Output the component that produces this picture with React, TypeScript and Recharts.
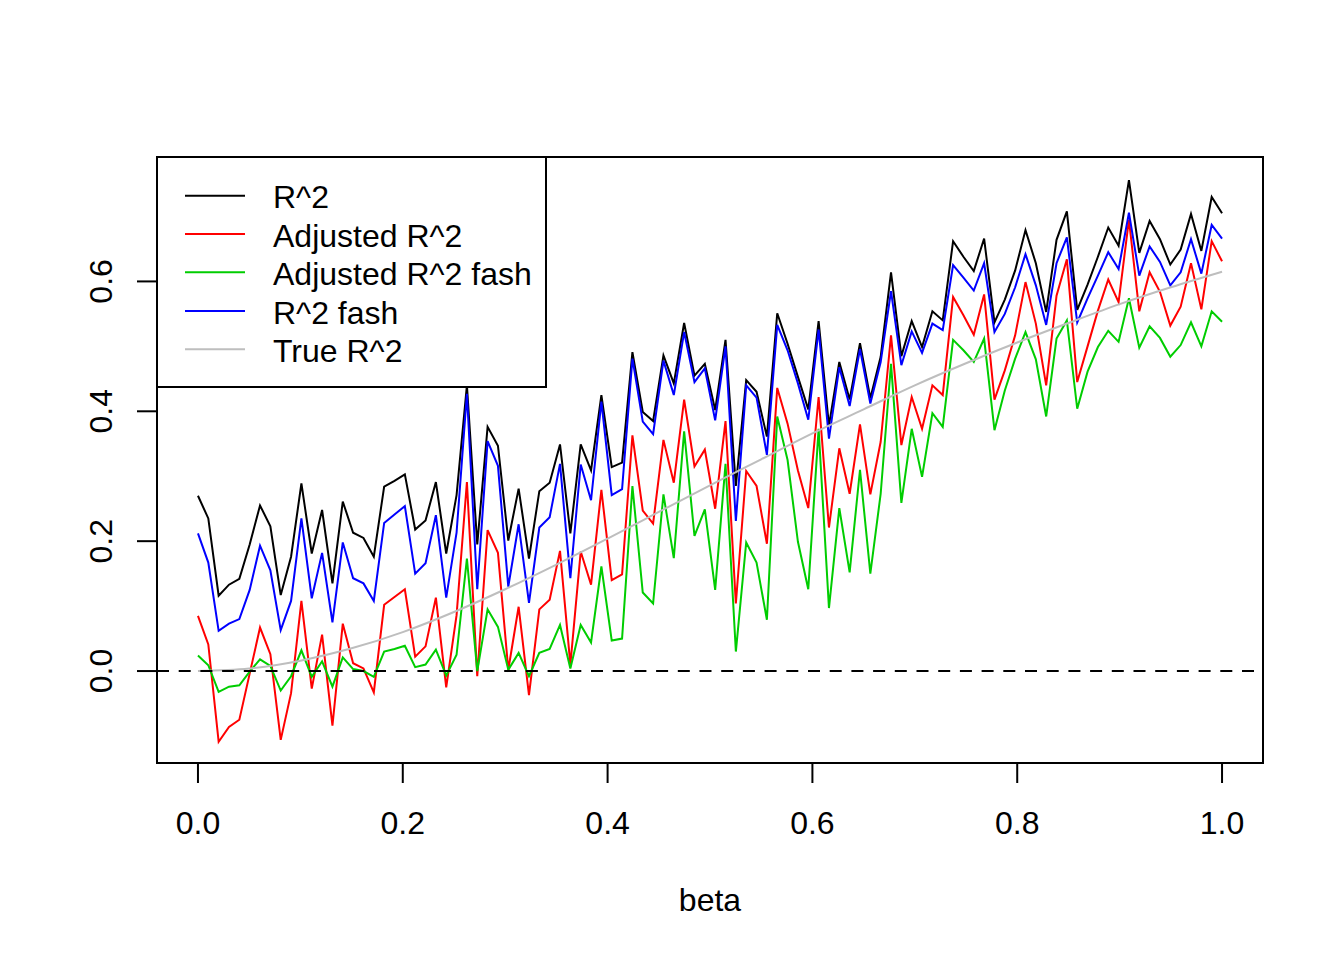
import React from "react";
import {
  LineChart,
  Line,
  XAxis,
  YAxis,
  ReferenceLine,
  ReferenceArea,
  Legend,
  Label,
} from "recharts";

// ---- data ----
const r2 = [
  0.270, 0.235, 0.116, 0.133, 0.142, 0.195, 0.255, 0.223, 0.117, 0.176,
  0.289, 0.181, 0.248, 0.135, 0.261, 0.213, 0.205, 0.176, 0.284, 0.293,
  0.303, 0.218, 0.232, 0.291, 0.181, 0.271, 0.440, 0.195, 0.376, 0.347,
  0.201, 0.281, 0.173, 0.277, 0.290, 0.349, 0.212, 0.349, 0.309, 0.425,
  0.314, 0.321, 0.491, 0.399, 0.385, 0.486, 0.443, 0.536, 0.455, 0.473,
  0.402, 0.510, 0.285, 0.448, 0.430, 0.361, 0.551, 0.504, 0.453, 0.403,
  0.539, 0.378, 0.476, 0.418, 0.505, 0.420, 0.484, 0.614, 0.485, 0.539,
  0.499, 0.554, 0.540, 0.662, 0.638, 0.616, 0.666, 0.537, 0.572, 0.617,
  0.679, 0.628, 0.553, 0.664, 0.708, 0.556, 0.595, 0.638, 0.683, 0.655,
  0.756, 0.644, 0.693, 0.665, 0.626, 0.649, 0.704, 0.647, 0.730, 0.705,
];

const adjR2 = [
  0.085, 0.041, -0.109, -0.086, -0.075, -0.004, 0.067, 0.026, -0.106, -0.034,
  0.108, -0.027, 0.056, -0.084, 0.073, 0.012, 0.004, -0.033, 0.102, 0.114,
  0.126, 0.022, 0.038, 0.113, -0.025, 0.086, 0.291, -0.008, 0.217, 0.182,
  0.002, 0.099, -0.037, 0.095, 0.110, 0.185, 0.010, 0.184, 0.133, 0.279,
  0.140, 0.149, 0.363, 0.247, 0.227, 0.356, 0.290, 0.418, 0.315, 0.341,
  0.250, 0.385, 0.104, 0.308, 0.285, 0.196, 0.436, 0.381, 0.309, 0.251,
  0.422, 0.221, 0.343, 0.273, 0.380, 0.272, 0.353, 0.517, 0.348, 0.422,
  0.373, 0.440, 0.425, 0.576, 0.548, 0.518, 0.580, 0.418, 0.463, 0.517,
  0.599, 0.535, 0.440, 0.578, 0.634, 0.445, 0.500, 0.555, 0.603, 0.568,
  0.695, 0.554, 0.614, 0.584, 0.532, 0.561, 0.628, 0.557, 0.662, 0.631,
];

const adjR2Fash = [
  0.024, 0.009, -0.032, -0.024, -0.022, -0.001, 0.018, 0.008, -0.030, -0.008,
  0.032, -0.009, 0.015, -0.024, 0.021, 0.003, 0.000, -0.009, 0.030, 0.034,
  0.039, 0.006, 0.010, 0.033, -0.007, 0.025, 0.173, 0.000, 0.095, 0.068,
  0.002, 0.028, -0.008, 0.028, 0.034, 0.071, 0.004, 0.071, 0.044, 0.161,
  0.047, 0.050, 0.285, 0.121, 0.104, 0.272, 0.174, 0.369, 0.208, 0.249,
  0.125, 0.319, 0.030, 0.198, 0.167, 0.079, 0.392, 0.325, 0.199, 0.126,
  0.373, 0.097, 0.251, 0.152, 0.310, 0.150, 0.273, 0.473, 0.259, 0.373,
  0.299, 0.397, 0.376, 0.510, 0.494, 0.476, 0.512, 0.371, 0.432, 0.481,
  0.522, 0.480, 0.392, 0.512, 0.540, 0.404, 0.461, 0.499, 0.524, 0.507,
  0.574, 0.498, 0.531, 0.513, 0.484, 0.502, 0.537, 0.500, 0.554, 0.538,
];

const r2Fash = [
  0.212, 0.167, 0.062, 0.073, 0.080, 0.125, 0.193, 0.155, 0.063, 0.108,
  0.235, 0.112, 0.182, 0.075, 0.198, 0.143, 0.135, 0.108, 0.228, 0.241,
  0.254, 0.150, 0.166, 0.240, 0.113, 0.213, 0.427, 0.126, 0.354, 0.316,
  0.130, 0.226, 0.105, 0.221, 0.237, 0.319, 0.143, 0.318, 0.263, 0.415,
  0.271, 0.280, 0.481, 0.384, 0.365, 0.478, 0.425, 0.522, 0.445, 0.466,
  0.386, 0.500, 0.231, 0.440, 0.421, 0.333, 0.533, 0.494, 0.443, 0.387,
  0.526, 0.358, 0.468, 0.408, 0.496, 0.412, 0.476, 0.585, 0.471, 0.523,
  0.490, 0.535, 0.525, 0.625, 0.606, 0.586, 0.628, 0.522, 0.550, 0.591,
  0.642, 0.594, 0.533, 0.628, 0.668, 0.537, 0.574, 0.609, 0.645, 0.619,
  0.706, 0.609, 0.654, 0.630, 0.594, 0.614, 0.665, 0.612, 0.687, 0.666,
];

// smooth "True R^2" curve, read at beta = 0, 0.05, ..., 1
const trueBeta = [
  0, 0.05, 0.1, 0.15, 0.2, 0.25, 0.3, 0.35, 0.4, 0.45, 0.5,
  0.55, 0.6, 0.65, 0.7, 0.75, 0.8, 0.85, 0.9, 0.95, 1.0,
];
const trueR2 = [
  0.0, 0.004, 0.016, 0.035, 0.060, 0.091, 0.126, 0.164, 0.204, 0.245, 0.286,
  0.326, 0.366, 0.403, 0.440, 0.474, 0.506, 0.536, 0.565, 0.591, 0.615,
];

const xTicks = [0, 0.2, 0.4, 0.6, 0.8, 1.0];
const yTicks = [0, 0.2, 0.4, 0.6];

const legendLabels = ["R^2", "Adjusted R^2", "Adjusted R^2 fash", "R^2 fash", "True R^2"];
const seriesColors = ["#000000", "#FF0000", "#00CD00", "#0000FF", "#BEBEBE"];

// beta grid: seq(0, 1, length = 100)
const beta = r2.map((_, i) => i / (r2.length - 1));

const rows = beta.map((x, i) => ({
  x,
  r2: r2[i],
  adj: adjR2[i],
  adjFash: adjR2Fash[i],
  fash: r2Fash[i],
}));
const trueRows = trueBeta.map((x, i) => ({ x, t: trueR2[i] }));

const X_DOMAIN: [number, number] = [-0.04, 1.04];
const Y_DOMAIN: [number, number] = [-0.1416, 0.7916];

const FONT = "'Liberation Sans', Arial, Helvetica, sans-serif";
const LW = 2;

const XTick = (props: any) => {
  const { x, y, payload } = props;
  return (
    <text x={x} y={y + 51} textAnchor="middle" fontSize={32} fontFamily={FONT} fill="#000">
      {Number(payload.value).toFixed(1)}
    </text>
  );
};

const YTick = (props: any) => {
  const { x, y, payload } = props;
  const tx = x - 25;
  return (
    <text
      x={tx}
      y={y}
      transform={`rotate(-90 ${tx} ${y})`}
      textAnchor="middle"
      fontSize={32}
      fontFamily={FONT}
      fill="#000"
    >
      {Number(payload.value).toFixed(1)}
    </text>
  );
};

const LegendBox = () => {
  const rowY = [39.7, 78, 116.3, 155, 193.3];
  return (
    <svg width={392} height={233} style={{ display: "block" }}>
      <rect x={1} y={1} width={389} height={230} fill="#fff" stroke="#000" strokeWidth={LW} />
      {legendLabels.map((lab, i) => (
        <g key={lab}>
          <line x1={29} x2={89} y1={rowY[i]} y2={rowY[i]} stroke={seriesColors[i]} strokeWidth={LW} />
          <text x={117} y={rowY[i] + 12.6} fontSize={32} fontFamily={FONT} fill="#000">
            {lab}
          </text>
        </g>
      ))}
    </svg>
  );
};

export default function App() {
  return (
    <div style={{ position: "absolute", left: 0, top: 0, width: 1344, height: 960, background: "#fff" }}>
      <LineChart
        width={1344}
        height={960}
        data={rows}
        margin={{ top: 157, right: 81, bottom: 0, left: 0 }}
      >
        <XAxis
          type="number"
          dataKey="x"
          domain={X_DOMAIN}
          allowDataOverflow
          ticks={xTicks}
          interval={0}
          height={197}
          axisLine={false}
          tickSize={20}
          tickMargin={0}
          tickLine={{ stroke: "#000", strokeWidth: LW }}
          tick={<XTick />}
        >
          <Label
            content={(p: any) => {
              const vb = p.viewBox || {};
              return (
                <text
                  x={vb.x + vb.width / 2}
                  y={vb.y + 148}
                  textAnchor="middle"
                  fontSize={32}
                  fontFamily={FONT}
                  fill="#000"
                >
                  beta
                </text>
              );
            }}
          />
        </XAxis>
        <YAxis
          type="number"
          domain={Y_DOMAIN}
          allowDataOverflow
          ticks={yTicks}
          interval={0}
          width={157}
          axisLine={false}
          tickSize={20}
          tickMargin={0}
          tickLine={{ stroke: "#000", strokeWidth: LW }}
          tick={<YTick />}
        />
        <Line
          dataKey="r2"
          type="linear"
          stroke={seriesColors[0]}
          strokeWidth={LW}
          dot={false}
          activeDot={false}
          isAnimationActive={false}
        />
        <Line
          dataKey="adj"
          type="linear"
          stroke={seriesColors[1]}
          strokeWidth={LW}
          dot={false}
          activeDot={false}
          isAnimationActive={false}
        />
        <Line
          dataKey="adjFash"
          type="linear"
          stroke={seriesColors[2]}
          strokeWidth={LW}
          dot={false}
          activeDot={false}
          isAnimationActive={false}
        />
        <Line
          dataKey="fash"
          type="linear"
          stroke={seriesColors[3]}
          strokeWidth={LW}
          dot={false}
          activeDot={false}
          isAnimationActive={false}
        />
        <Line
          data={trueRows}
          dataKey="t"
          type="monotone"
          stroke={seriesColors[4]}
          strokeWidth={LW}
          dot={false}
          activeDot={false}
          isAnimationActive={false}
        />
        <ReferenceLine y={0} stroke="#000" strokeWidth={LW} strokeDasharray="12 9.7" />
        <ReferenceArea
          x1={X_DOMAIN[0]}
          x2={X_DOMAIN[1]}
          y1={Y_DOMAIN[0]}
          y2={Y_DOMAIN[1]}
          fill="none"
          fillOpacity={0}
          stroke="#000"
          strokeWidth={LW}
        />
        <Legend
          layout="horizontal"
          align="center"
          verticalAlign="middle"
          content={() => <LegendBox />}
          wrapperStyle={{ left: 156, top: 156, width: 392, height: 233 }}
        />
      </LineChart>
    </div>
  );
}
